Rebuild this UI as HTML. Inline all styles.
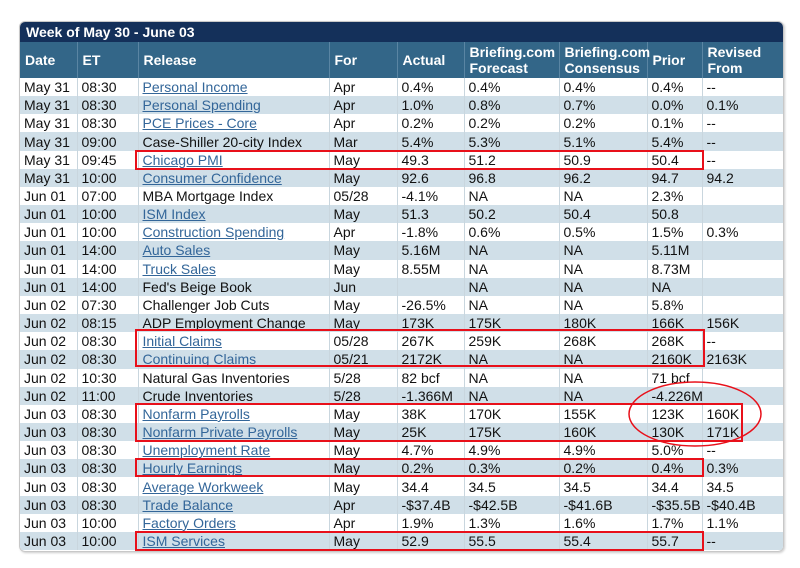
<!DOCTYPE html>
<html><head><meta charset="utf-8"><style>
body{margin:0;width:800px;height:568px;background:#fff;position:relative;font-family:"Liberation Sans",Arial,sans-serif;overflow:hidden}
#wrap{position:absolute;left:19px;top:21px;width:763px;height:529px;border:1px solid #c8c8c8;border-radius:6px;overflow:hidden;box-shadow:1px 1px 2px #ccc}
#title{height:20px;background:#14305a;color:#fff;font-weight:bold;font-size:14px;line-height:21px;padding-left:6px}
table{border-collapse:collapse;table-layout:fixed;width:763px;font-size:14px}
th{background:#336688;color:#fff;font-weight:bold;text-align:left;height:36px;padding:0 0 0 5px;line-height:16px;border-right:1px solid #5a85a3;vertical-align:middle}
td{height:18.16px;padding:0 0 0 4px;line-height:18px;border-right:1px solid #c9d6de;white-space:nowrap;color:#111;overflow:hidden}
tbody tr:nth-child(even) td{background:#d0dfe8}
a{color:#336699;text-decoration:underline}
.box{position:absolute;border:2px solid #e8101a;box-sizing:border-box}
</style></head><body>
<div id="wrap">
<div id="title">Week of May 30 - June 03</div>
<table>
<colgroup><col style="width:57px"><col style="width:61px"><col style="width:191px"><col style="width:68px"><col style="width:67px"><col style="width:95px"><col style="width:88px"><col style="width:55px"><col style="width:81px"></colgroup>
<thead><tr><th>Date</th><th>ET</th><th>Release</th><th>For</th><th>Actual</th><th>Briefing.com<br>Forecast</th><th>Briefing.com<br>Consensus</th><th>Prior</th><th>Revised<br>From</th></tr></thead>
<tbody>
<tr><td>May 31</td><td>08:30</td><td><a>Personal Income</a></td><td>Apr</td><td>0.4%</td><td>0.4%</td><td>0.4%</td><td>0.4%</td><td>--</td></tr>
<tr><td>May 31</td><td>08:30</td><td><a>Personal Spending</a></td><td>Apr</td><td>1.0%</td><td>0.8%</td><td>0.7%</td><td>0.0%</td><td>0.1%</td></tr>
<tr><td>May 31</td><td>08:30</td><td><a>PCE Prices - Core</a></td><td>Apr</td><td>0.2%</td><td>0.2%</td><td>0.2%</td><td>0.1%</td><td>--</td></tr>
<tr><td>May 31</td><td>09:00</td><td>Case-Shiller 20-city Index</td><td>Mar</td><td>5.4%</td><td>5.3%</td><td>5.1%</td><td>5.4%</td><td>--</td></tr>
<tr><td>May 31</td><td>09:45</td><td><a>Chicago PMI</a></td><td>May</td><td>49.3</td><td>51.2</td><td>50.9</td><td>50.4</td><td>--</td></tr>
<tr><td>May 31</td><td>10:00</td><td><a>Consumer Confidence</a></td><td>May</td><td>92.6</td><td>96.8</td><td>96.2</td><td>94.7</td><td>94.2</td></tr>
<tr><td>Jun 01</td><td>07:00</td><td>MBA Mortgage Index</td><td>05/28</td><td>-4.1%</td><td>NA</td><td>NA</td><td>2.3%</td><td></td></tr>
<tr><td>Jun 01</td><td>10:00</td><td><a>ISM Index</a></td><td>May</td><td>51.3</td><td>50.2</td><td>50.4</td><td>50.8</td><td></td></tr>
<tr><td>Jun 01</td><td>10:00</td><td><a>Construction Spending</a></td><td>Apr</td><td>-1.8%</td><td>0.6%</td><td>0.5%</td><td>1.5%</td><td>0.3%</td></tr>
<tr><td>Jun 01</td><td>14:00</td><td><a>Auto Sales</a></td><td>May</td><td>5.16M</td><td>NA</td><td>NA</td><td>5.11M</td><td></td></tr>
<tr><td>Jun 01</td><td>14:00</td><td><a>Truck Sales</a></td><td>May</td><td>8.55M</td><td>NA</td><td>NA</td><td>8.73M</td><td></td></tr>
<tr><td>Jun 01</td><td>14:00</td><td>Fed's Beige Book</td><td>Jun</td><td></td><td>NA</td><td>NA</td><td>NA</td><td></td></tr>
<tr><td>Jun 02</td><td>07:30</td><td>Challenger Job Cuts</td><td>May</td><td>-26.5%</td><td>NA</td><td>NA</td><td>5.8%</td><td></td></tr>
<tr><td>Jun 02</td><td>08:15</td><td>ADP Employment Change</td><td>May</td><td>173K</td><td>175K</td><td>180K</td><td>166K</td><td>156K</td></tr>
<tr><td>Jun 02</td><td>08:30</td><td><a>Initial Claims</a></td><td>05/28</td><td>267K</td><td>259K</td><td>268K</td><td>268K</td><td>--</td></tr>
<tr><td>Jun 02</td><td>08:30</td><td><a>Continuing Claims</a></td><td>05/21</td><td>2172K</td><td>NA</td><td>NA</td><td>2160K</td><td>2163K</td></tr>
<tr><td>Jun 02</td><td>10:30</td><td>Natural Gas Inventories</td><td>5/28</td><td>82 bcf</td><td>NA</td><td>NA</td><td>71 bcf</td><td></td></tr>
<tr><td>Jun 02</td><td>11:00</td><td>Crude Inventories</td><td>5/28</td><td>-1.366M</td><td>NA</td><td>NA</td><td>-4.226M</td><td></td></tr>
<tr><td>Jun 03</td><td>08:30</td><td><a>Nonfarm Payrolls</a></td><td>May</td><td>38K</td><td>170K</td><td>155K</td><td>123K</td><td>160K</td></tr>
<tr><td>Jun 03</td><td>08:30</td><td><a>Nonfarm Private Payrolls</a></td><td>May</td><td>25K</td><td>175K</td><td>160K</td><td>130K</td><td>171K</td></tr>
<tr><td>Jun 03</td><td>08:30</td><td><a>Unemployment Rate</a></td><td>May</td><td>4.7%</td><td>4.9%</td><td>4.9%</td><td>5.0%</td><td>--</td></tr>
<tr><td>Jun 03</td><td>08:30</td><td><a>Hourly Earnings</a></td><td>May</td><td>0.2%</td><td>0.3%</td><td>0.2%</td><td>0.4%</td><td>0.3%</td></tr>
<tr><td>Jun 03</td><td>08:30</td><td><a>Average Workweek</a></td><td>May</td><td>34.4</td><td>34.5</td><td>34.5</td><td>34.4</td><td>34.5</td></tr>
<tr><td>Jun 03</td><td>08:30</td><td><a>Trade Balance</a></td><td>Apr</td><td>-$37.4B</td><td>-$42.5B</td><td>-$41.6B</td><td>-$35.5B</td><td>-$40.4B</td></tr>
<tr><td>Jun 03</td><td>10:00</td><td><a>Factory Orders</a></td><td>Apr</td><td>1.9%</td><td>1.3%</td><td>1.6%</td><td>1.7%</td><td>1.1%</td></tr>
<tr><td>Jun 03</td><td>10:00</td><td><a>ISM Services</a></td><td>May</td><td>52.9</td><td>55.5</td><td>55.4</td><td>55.7</td><td>--</td></tr>
</tbody></table>
</div>
<div class="box" style="left:135px;top:150px;width:569px;height:20px"></div>
<div class="box" style="left:135px;top:329px;width:570px;height:38px"></div>
<div class="box" style="left:135px;top:403px;width:608px;height:39px"></div>
<div class="box" style="left:135px;top:458px;width:569px;height:19px"></div>
<div class="box" style="left:135px;top:531px;width:569px;height:20px"></div>
<svg style="position:absolute;left:0;top:0" width="800" height="568">
<ellipse cx="695" cy="414" rx="66" ry="32" fill="none" stroke="#e8101a" stroke-width="1.5"/>
</svg>
</body></html>
